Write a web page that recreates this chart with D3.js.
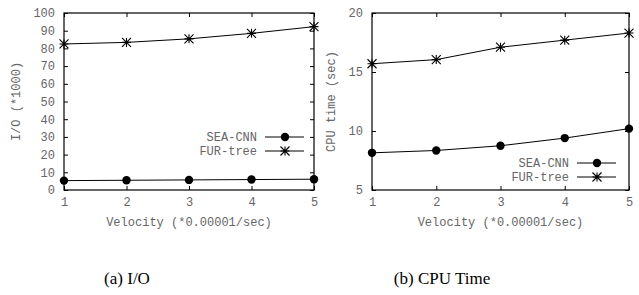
<!DOCTYPE html>
<html>
<head>
<meta charset="utf-8">
<script src="https://cdn.jsdelivr.net/npm/d3@7"></script>
<style>
body { margin: 0; background: #fff; }
.tick text, .lbl { font-family: "Liberation Mono", "DejaVu Sans Mono", monospace; font-size: 12px; fill: #666; }
.cap { font-family: "Liberation Serif", "DejaVu Serif", serif; font-size: 17px; fill: #000; }
</style>
</head>
<body>
<div id="viz"></div>
<script>
var velocity = [1, 2, 3, 4, 5];
var seriesNames = ["SEA-CNN", "FUR-tree"];

// (a) I/O (*1000)
var ioSea = [5.3, 5.5, 5.7, 5.9, 6.1];
var ioFur = [82.5, 83.4, 85.4, 88.5, 92.3];
var ioTicks = [0, 10, 20, 30, 40, 50, 60, 70, 80, 90, 100];

// (b) CPU time (sec)
var cpuSea = [8.15, 8.35, 8.75, 9.4, 10.2];
var cpuFur = [15.7, 16.05, 17.1, 17.7, 18.3];
var cpuTicks = [5, 10, 15, 20];

var svg = d3.select("#viz").append("svg")
    .attr("width", 639)
    .attr("height", 295);

function star(g, x, y) {
    var s = 4.5;
    var p = "M" + (x - s) + "," + y + "L" + (x + s) + "," + y +
        "M" + x + "," + (y - s) + "L" + x + "," + (y + s) +
        "M" + (x - s) + "," + (y - s) + "L" + (x + s) + "," + (y + s) +
        "M" + (x - s) + "," + (y + s) + "L" + (x + s) + "," + (y - s);
    g.append("path").attr("d", p).attr("stroke", "#000").attr("stroke-width", 1.1).attr("fill", "none");
}

function drawPanel(opt) {
    var g = svg.append("g").attr("transform", "translate(" + opt.left + "," + opt.top + ")");
    var w = opt.width, h = opt.height;

    var x = d3.scaleLinear().domain([1, 5]).range([0, w]);
    var y = d3.scaleLinear().domain(opt.domain).range([h, 0]);

    // axes with inward ticks, mirrored
    var xAxis = d3.axisBottom(x).tickValues(velocity).tickFormat(d3.format("d")).tickSizeInner(-4).tickSizeOuter(0).tickPadding(7);
    var yAxis = d3.axisLeft(y).tickValues(opt.ticks).tickFormat(d3.format("d")).tickSizeInner(-4).tickSizeOuter(0).tickPadding(9);
    var xTop = d3.axisTop(x).tickValues(velocity).tickFormat("").tickSizeInner(-4).tickSizeOuter(0);
    var yRight = d3.axisRight(y).tickValues(opt.ticks).tickFormat("").tickSizeInner(-4).tickSizeOuter(0);

    g.append("g").attr("transform", "translate(0," + h + ")").call(xAxis);
    g.append("g").call(yAxis);
    g.append("g").call(xTop);
    g.append("g").attr("transform", "translate(" + w + ",0)").call(yRight);
    g.selectAll(".domain").remove();
    g.selectAll(".tick line").attr("stroke", "#000");

    g.append("rect").attr("width", w).attr("height", h)
        .attr("fill", "none").attr("stroke", "#000").attr("stroke-width", 1.2);

    g.append("text").attr("class", "lbl")
        .attr("x", w / 2).attr("y", h + 36)
        .attr("text-anchor", "middle")
        .text("Velocity (*0.00001/sec)");

    g.append("text").attr("class", "lbl")
        .attr("transform", "translate(" + opt.ytitleX + "," + (h / 2) + ") rotate(-90)")
        .attr("text-anchor", "middle")
        .text(opt.ytitle);

    var line = d3.line()
        .x(function(d, i) { return x(velocity[i]); })
        .y(function(d) { return y(d); });

    [opt.sea, opt.fur].forEach(function(vals) {
        g.append("path").datum(vals).attr("d", line)
            .attr("fill", "none").attr("stroke", "#000").attr("stroke-width", 1);
    });

    opt.sea.forEach(function(d, i) {
        g.append("circle").attr("cx", x(velocity[i])).attr("cy", y(d)).attr("r", 4.2).attr("fill", "#000");
    });
    opt.fur.forEach(function(d, i) {
        star(g, x(velocity[i]), y(d));
    });

    // legend
    seriesNames.forEach(function(name, i) {
        var ly = opt.legY + i * 14;
        g.append("text").attr("class", "lbl")
            .attr("x", opt.legX).attr("y", ly + 4)
            .attr("text-anchor", "end")
            .text(name);
        g.append("line").attr("x1", opt.legX + 8).attr("x2", opt.legX + 47)
            .attr("y1", ly).attr("y2", ly).attr("stroke", "#000").attr("stroke-width", 1);
        if (i == 0) {
            g.append("circle").attr("cx", opt.legX + 28).attr("cy", ly).attr("r", 4.2).attr("fill", "#000");
        } else {
            star(g, opt.legX + 28, ly);
        }
    });

    svg.append("text").attr("class", "cap")
        .attr("x", opt.capX).attr("y", 284)
        .attr("text-anchor", "middle")
        .text(opt.caption);
}

drawPanel({
    left: 64, top: 13, width: 250, height: 177,
    domain: [0, 100], ticks: ioTicks,
    sea: ioSea, fur: ioFur,
    ytitle: "I/O (*1000)", ytitleX: -44,
    legX: 193, legY: 124,
    caption: "(a) I/O", capX: 127
});

drawPanel({
    left: 372, top: 13, width: 257, height: 177,
    domain: [5, 20], ticks: cpuTicks,
    sea: cpuSea, fur: cpuFur,
    ytitle: "CPU time (sec)", ytitleX: -37,
    legX: 197, legY: 150,
    caption: "(b) CPU Time", capX: 442
});
</script>
</body>
</html>
